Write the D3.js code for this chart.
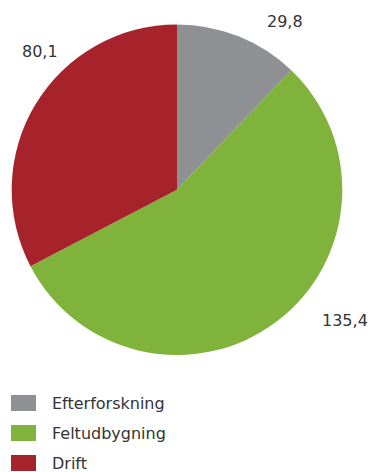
<!DOCTYPE html>
<html>
<head>
<meta charset="utf-8">
<script src="https://cdn.jsdelivr.net/npm/d3@7"></script>
<style>
html,body{margin:0;padding:0;background:#fff;}
svg{display:block;}
text{font-family:"DejaVu Sans",Verdana,sans-serif;font-size:16px;fill:#333;}
</style>
</head>
<body>
<svg id="chart" width="370" height="472"></svg>
<script>
const categories = ["Efterforskning", "Feltudbygning", "Drift"];
const values = [29.8, 135.4, 80.1];
const valueLabels = ["29,8", "135,4", "80,1"];
const colors = ["#8F9093", "#80B33B", "#A6232B"];

const svg = d3.select("#chart");
const cx = 177, cy = 189.7, r = 165.3;

const pie = d3.pie().sort(null).value(d => d.v);
const data = categories.map((c, i) => ({c, v: values[i], label: valueLabels[i], color: colors[i]}));
const arcs = pie(data);
const arc = d3.arc().innerRadius(0).outerRadius(r);

const g = svg.append("g").attr("transform", `translate(${cx},${cy})`);
g.selectAll("path").data(arcs).enter().append("path")
  .attr("d", arc).attr("fill", d => d.data.color);

// value label positions (outside the pie)
const labelPos = [
  {x: 267, y: 27},
  {x: 322, y: 326},
  {x: 22, y: 57}
];
svg.selectAll("text.val").data(arcs).enter().append("text")
  .attr("class", "val")
  .attr("x", (d, i) => labelPos[i].x)
  .attr("y", (d, i) => labelPos[i].y)
  .text(d => d.data.label);

// legend
const legendY = d3.scalePoint().domain(categories).range([395, 455]);
const lg = svg.selectAll("g.leg").data(data).enter().append("g").attr("class", "leg")
  .attr("transform", d => `translate(11,${legendY(d.c)})`);
lg.append("rect").attr("width", 25).attr("height", 16).attr("fill", d => d.color);
lg.append("text").attr("x", 41).attr("y", 13.5).text(d => d.c);
</script>
</body>
</html>
